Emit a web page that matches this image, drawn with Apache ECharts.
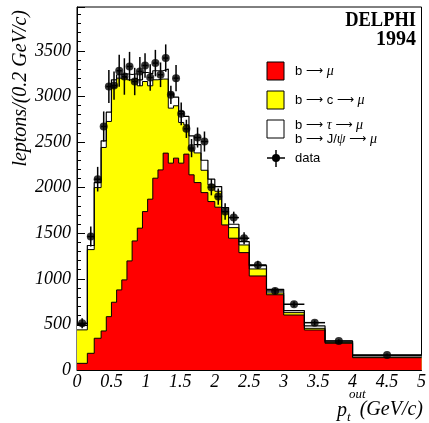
<!DOCTYPE html>
<html>
<head>
<meta charset="utf-8">
<script src="https://cdn.jsdelivr.net/npm/echarts@6/dist/echarts.min.js"></script>
<style>
  html, body { margin: 0; padding: 0; background: #fff; }
  #chart { width: 429px; height: 423px; }
</style>
</head>
<body>
<div id="chart"></div>
<script>
// bin edges in p_t^out (GeV/c)
const binEdges = [0, 0.15, 0.25, 0.35, 0.425, 0.5, 0.575, 0.65, 0.725, 0.8, 0.875, 0.95, 1.025, 1.1,
  1.175, 1.25, 1.325, 1.4, 1.475, 1.55, 1.625, 1.7, 1.8, 1.9, 2.0, 2.1, 2.2, 2.35, 2.5, 2.75,
  3.0, 3.3, 3.6, 4.0, 5.0];

// simulated contributions, leptons / (0.2 GeV/c)
const bToMu = [73, 183, 348, 428, 585, 743, 878, 988, 1196, 1415, 1555, 1737, 1873, 2103,
  2194, 2378, 2268, 2323, 2268, 2367, 2140, 2055, 1945, 1847, 1785, 1591, 1445, 1287, 1031,
  825, 603, 439, 293, 135];
const bToCToMu = [367, 1137, 1652, 2012, 2140, 2358, 2322, 2223, 1986, 1785, 1561, 1426, 1243, 1079,
  996, 812, 603, 574, 446, 321, 274, 325, 245, 183, 175, 146, 116, 84, 77,
  20, 26, 18, 10, 8];
const bToTauJpsi = [50, 45, 55, 73, 102, 81, 37, 37, 58, 48, 66, 99, 132, 99,
  91, 109, 165, 95, 120, 92, 153, 90, 110, 62, 51, 44, 37, 37, 37,
  40, 22, 26, 15, 17];

// measured data and errors
const dataValues = [512, 1463, 2092, 2670, 3108, 3119, 3281, 3218, 3328, 3163, 3273, 3339, 3207, 3365,
  3237, 3420, 3017, 3200, 2809, 2644, 2433, 2549, 2505, 2005, 1901, 1737, 1671, 1445, 1152,
  867, 721, 519, 318, 165];
const dataErrors = [55, 110, 135, 165, 180, 155, 175, 200, 160, 150, 160, 135, 145, 145,
  135, 150, 100, 145, 125, 100, 100, 110, 110, 90, 90, 90, 65, 65, 45,
  35, 30, 25, 20, 15];

const serif = 'Liberation Serif';
const sans = 'Liberation Sans';

function stepPoints(vals) {
  const pts = vals.map((v, i) => [binEdges[i], v]);
  pts.push([binEdges[vals.length], vals[vals.length - 1]]);
  return pts;
}

const redTop = bToMu.slice();
const yellowTop = bToMu.map((v, i) => v + bToCToMu[i]);
const totalTop = yellowTop.map((v, i) => v + bToTauJpsi[i]);

const points = dataValues.map((v, i) => [(binEdges[i] + binEdges[i + 1]) / 2, v]);
const errBars = dataValues.map((v, i) => [
  v - dataErrors[i], v + dataErrors[i], binEdges[i], binEdges[i + 1],
  (binEdges[i] + binEdges[i + 1]) / 2, v
]);

function histSeries(vals, fill, lw) {
  return {
    type: 'line',
    step: 'end',
    data: stepPoints(vals),
    symbol: 'none',
    lineStyle: { color: '#000', width: lw },
    areaStyle: { color: fill, opacity: 1 },
    silent: true
  };
}

// legend label rich styles
const rich = {
  g: { fontFamily: serif, fontStyle: 'italic', fontSize: 14 },
  a: { fontFamily: 'DejaVu Sans', fontSize: 12 }
};
function legendText(y, text) {
  return { type: 'text', x: 295, y: y, style: { text: text, rich: rich, fontFamily: sans, fontSize: 13, fill: '#000', textVerticalAlign: 'middle' } };
}

const chart = echarts.init(document.getElementById('chart'));
chart.setOption({
  animation: false,
  grid: { left: 77, right: 6, top: 7, bottom: 53, show: true, borderColor: '#000', borderWidth: 1 },
  xAxis: {
    type: 'value', min: 0, max: 5, interval: 0.5,
    axisLine: { lineStyle: { color: '#000' } },
    axisTick: { inside: true, length: 8, lineStyle: { color: '#000' } },
    minorTick: { show: true, splitNumber: 5, length: 4, lineStyle: { color: '#000' } },
    splitLine: { show: false },
    axisLabel: { color: '#000', fontFamily: serif, fontStyle: 'italic', fontSize: 18, margin: 3 }
  },
  yAxis: {
    type: 'value', min: 0, max: 3980, interval: 500,
    axisLine: { show: true, lineStyle: { color: '#000' } },
    axisTick: { show: true, inside: true, length: 8, lineStyle: { color: '#000' } },
    minorTick: { show: true, splitNumber: 5, length: 4, lineStyle: { color: '#000' } },
    splitLine: { show: false },
    axisLabel: {
      color: '#000', fontFamily: serif, fontStyle: 'italic', fontSize: 18, margin: 6,
      formatter: v => (v % 500 === 0 ? String(v) : '')
    }
  },
  series: [
    histSeries(totalTop, '#ffffff', 1.2),
    histSeries(yellowTop, '#ffff00', 1),
    histSeries(redTop, '#ff0000', 1),
    {
      type: 'custom',
      data: errBars,
      encode: { x: [2, 3, 4], y: [0, 1, 5] },
      renderItem: function (params, api) {
        const lo = api.coord([api.value(4), api.value(0)]);
        const hi = api.coord([api.value(4), api.value(1)]);
        const l = api.coord([api.value(2), api.value(5)]);
        const r = api.coord([api.value(3), api.value(5)]);
        const st = { stroke: '#000', lineWidth: 1.5 };
        return {
          type: 'group',
          children: [
            { type: 'line', shape: { x1: lo[0], y1: lo[1], x2: hi[0], y2: hi[1] }, style: st },
            { type: 'line', shape: { x1: l[0], y1: l[1], x2: r[0], y2: r[1] }, style: st }
          ]
        };
      },
      z: 5
    },
    {
      type: 'scatter',
      data: points,
      symbol: 'circle',
      symbolSize: 8,
      itemStyle: { color: '#000' },
      z: 6
    }
  ],
  graphic: [
    { type: 'text', x: 416, y: 20.5, scaleX: 0.88, style: { text: 'DELPHI', fontFamily: serif, fontWeight: 'bold', fontSize: 21, fill: '#000', textAlign: 'right', textVerticalAlign: 'middle' } },
    { type: 'text', x: 416, y: 40, style: { text: '1994', fontFamily: serif, fontWeight: 'bold', fontSize: 20, fill: '#000', textAlign: 'right', textVerticalAlign: 'middle' } },

    { type: 'rect', shape: { x: 267, y: 62, width: 17, height: 18 }, style: { fill: '#ff0000', stroke: '#000', lineWidth: 1 } },
    { type: 'rect', shape: { x: 267, y: 91, width: 17, height: 18 }, style: { fill: '#ffff00', stroke: '#000', lineWidth: 1 } },
    { type: 'rect', shape: { x: 267, y: 120, width: 17, height: 18 }, style: { fill: '#ffffff', stroke: '#000', lineWidth: 1 } },
    { type: 'line', shape: { x1: 267, y1: 158, x2: 285, y2: 158 }, style: { stroke: '#000', lineWidth: 1.5 } },
    { type: 'line', shape: { x1: 276, y1: 150, x2: 276, y2: 167 }, style: { stroke: '#000', lineWidth: 1.5 } },
    { type: 'circle', shape: { cx: 276, cy: 158, r: 4 }, style: { fill: '#000' } },

    legendText(71, 'b {a|⟶} {g|μ}'),
    legendText(100, 'b {a|⟶} c {a|⟶} {g|μ}'),
    legendText(125, 'b {a|⟶} {g|τ} {a|⟶} {g|μ}'),
    legendText(139, 'b {a|⟶} J/{g|ψ} {a|⟶} {g|μ}'),
    legendText(158, 'data'),

    // axis titles
    { type: 'text', x: 21, y: 10, rotation: Math.PI / 2, style: { text: 'leptons/(0.2 GeV/c)', fontFamily: serif, fontStyle: 'italic', fontSize: 20, fill: '#000', textAlign: 'right', textVerticalAlign: 'middle' } },
    { type: 'text', x: 337, y: 411, style: { text: 'p', fontFamily: serif, fontStyle: 'italic', fontSize: 20, fill: '#000', textVerticalAlign: 'middle' } },
    { type: 'text', x: 349, y: 395, style: { text: 'out', fontFamily: serif, fontStyle: 'italic', fontSize: 13, fill: '#000', textVerticalAlign: 'middle' } },
    { type: 'text', x: 347, y: 418, style: { text: 't', fontFamily: serif, fontStyle: 'italic', fontSize: 13, fill: '#000', textVerticalAlign: 'middle' } },
    { type: 'text', x: 423, y: 410, style: { text: '(GeV/c)', fontFamily: serif, fontStyle: 'italic', fontSize: 20, fill: '#000', textAlign: 'right', textVerticalAlign: 'middle' } }
  ]
});
</script>
</body>
</html>
